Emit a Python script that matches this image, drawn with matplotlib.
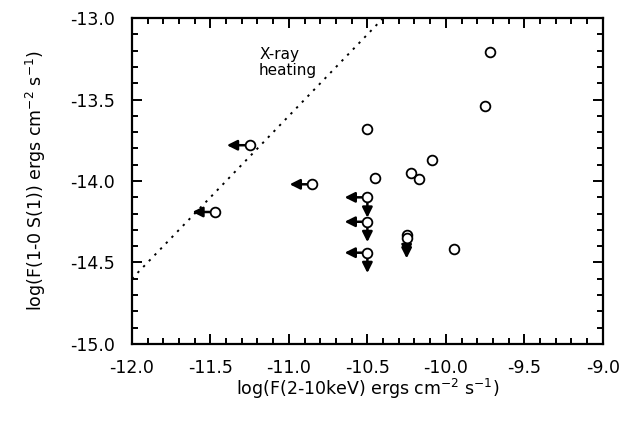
import numpy as np
import matplotlib.pyplot as plt
from matplotlib.ticker import MultipleLocator

plt.rcParams['font.family'] = ['DejaVu Sans']

# detections
x_det = [-9.72, -9.75, -10.50, -10.09, -10.22, -10.17, -10.45, -9.95]
y_det = [-13.21, -13.54, -13.68, -13.87, -13.95, -13.99, -13.98, -14.42]

# upper limit in x only
x_xlim = [-11.25, -10.85, -11.47]
y_xlim = [-13.78, -14.02, -14.19]

# upper limits in both x and y
x_both = [-10.50, -10.50, -10.50]
y_both = [-14.10, -14.25, -14.44]

# upper limits in y only
x_ylim = [-10.25, -10.25]
y_ylim = [-14.33, -14.35]

# X-ray heating line
x_heat = [-12.0, -10.4]
y_heat = [-14.6, -13.0]

fig = plt.figure(figsize=(6.28, 4.23), dpi=100)
ax = fig.add_axes([0.210, 0.187, 0.750, 0.770])

ax.plot(x_heat, y_heat, ls=(0, (1.2, 3)), color='black', lw=1.4)
ax.text(-11.19, -13.27, 'X-ray\nheating', fontsize=11, va='center',
        ha='left', linespacing=1.1)

arrow = dict(arrowstyle='-|>', color='black', lw=1.8, mutation_scale=15,
             shrinkA=0, shrinkB=0)
dx = 0.145
dy = 0.125
for x, y in zip(x_xlim + x_both, y_xlim + y_both):
    ax.annotate('', xy=(x - dx, y), xytext=(x, y), arrowprops=arrow)
for x, y in zip(x_both + x_ylim, y_both + y_ylim):
    ax.annotate('', xy=(x, y - dy), xytext=(x, y), arrowprops=arrow)

allx = x_det + x_xlim + x_both + x_ylim
ally = y_det + y_xlim + y_both + y_ylim
ax.plot(allx, ally, 'o', ms=7, mfc='white', mec='black', mew=1.3,
        ls='none', zorder=5)

ax.set_xlim(-12.0, -9.0)
ax.set_ylim(-15.0, -13.0)
ax.xaxis.set_major_locator(MultipleLocator(0.5))
ax.xaxis.set_minor_locator(MultipleLocator(0.1))
ax.yaxis.set_major_locator(MultipleLocator(0.5))
ax.yaxis.set_minor_locator(MultipleLocator(0.1))
ax.xaxis.set_major_formatter(lambda v, p: f'{v:.1f}')
ax.yaxis.set_major_formatter(lambda v, p: f'{v:.1f}')
ax.tick_params(which='both', direction='in', top=True, right=True,
               labelsize=12.5, width=1.4)
ax.tick_params(which='major', length=7)
ax.tick_params(which='minor', length=4)
ax.tick_params(axis='y', which='major', pad=12)
ax.tick_params(axis='x', which='major', pad=11)
for s in ax.spines.values():
    s.set_linewidth(1.6)

ax.set_xlabel(r'log(F(2-10keV) ergs cm$^{-2}$ s$^{-1}$)', fontsize=12.5,
              labelpad=0)
ax.set_ylabel(r'log(F(1-0 S(1)) ergs cm$^{-2}$ s$^{-1}$)', fontsize=12.5,
              labelpad=16)

fig.savefig('out.png', dpi=100)
